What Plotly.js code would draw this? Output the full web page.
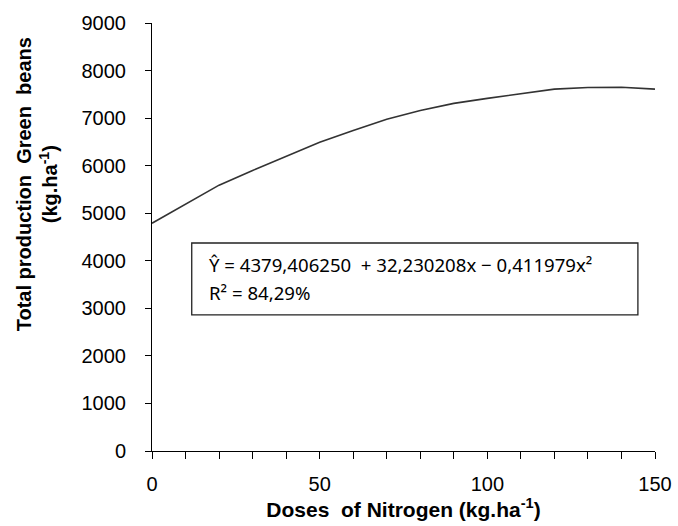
<!DOCTYPE html>
<html>
<head>
<meta charset="utf-8">
<script src="https://cdn.plot.ly/plotly-3.0.1.min.js"></script>
<style>html,body{margin:0;padding:0;background:#fff;}#chart{width:678px;height:526px;}</style>
</head>
<body>
<div id="chart"></div>
<script>
// Nitrogen doses (kg/ha) and total green bean production (kg/ha)
const doses = [0, 10, 20, 30, 40, 50, 60, 70, 80, 90, 100, 110, 120, 130, 140, 150];
const production = [4790, 5190, 5590, 5900, 6200, 6490, 6740, 6975, 7160, 7310, 7415, 7515, 7610, 7645, 7650, 7610];
const xTickVals = [0, 50, 100, 150];
const yTickVals = [0, 1000, 2000, 3000, 4000, 5000, 6000, 7000, 8000, 9000];
const equationText = "Ŷ = 4379,406250&nbsp;&nbsp;+ 32,230208x − 0,411979x²";
const r2Text = "R² = 84,29%";
const xTitle = "Doses&nbsp;&nbsp;of Nitrogen (kg.ha<sup>-1</sup>)";
const yTitle = "Total production&nbsp;&nbsp;Green&nbsp;&nbsp;beans<br>(kg.ha<sup>-1</sup>)";

const trace = {
  x: doses, y: production, type: 'scatter', mode: 'lines',
  line: {color: '#333333', width: 1.6, shape: 'linear'},
  hoverinfo: 'skip', showlegend: false
};

const layout = {
  width: 678, height: 526,
  margin: {l: 152, r: 23, t: 23, b: 75},
  paper_bgcolor: '#ffffff', plot_bgcolor: '#ffffff',
  font: {family: 'Liberation Sans, Arial, sans-serif', color: '#000'},
  xaxis: {
    range: [0, 150], tickvals: xTickVals, ticks: 'outside', ticklen: 7, tickwidth: 1, tickcolor: '#000',
    minor: {dtick: 10, ticks: 'outside', ticklen: 7, tickwidth: 1, tickcolor: '#000', showgrid: false},
    showline: true, linecolor: '#000', linewidth: 1, showgrid: false, zeroline: false,
    tickfont: {size: 20, family: 'Liberation Sans, Arial, sans-serif'},
    ticklabelstandoff: 8,
    title: {text: xTitle, font: {size: 21, family: 'Liberation Sans, Arial, sans-serif', weight: 'bold'}, standoff: 7}
  },
  yaxis: {
    range: [0, 9000], tickvals: yTickVals, ticks: 'outside', ticklen: 6, tickwidth: 1, tickcolor: '#000',
    showline: true, linecolor: '#000', linewidth: 1, showgrid: false, zeroline: false,
    tickfont: {size: 20, family: 'Liberation Sans, Arial, sans-serif'},
    ticklabelstandoff: 15
  },
  shapes: [
    {type: 'rect', xref: 'paper', yref: 'paper', x0: 0.079, x1: 0.966, y0: 0.318, y1: 0.486,
     line: {color: '#222', width: 1.3}, fillcolor: 'rgba(255,255,255,0)'}
  ],
  annotations: [
    {xref: 'paper', yref: 'paper', x: 0.110, y: 0.435, xanchor: 'left', yanchor: 'middle', showarrow: false,
     text: equationText, font: {size: 18.6, family: 'Noto Sans, sans-serif', color: '#000'}},
    {xref: 'paper', yref: 'paper', x: 0.110, y: 0.371, xanchor: 'left', yanchor: 'middle', showarrow: false,
     text: r2Text, font: {size: 18.6, family: 'Noto Sans, sans-serif', color: '#000'}},
    {xref: 'paper', yref: 'paper', x: -0.228, y: 0.624, xanchor: 'center', yanchor: 'middle', showarrow: false,
     textangle: -90, text: yTitle, font: {size: 20, family: 'Liberation Sans, Arial, sans-serif', weight: 'bold', color: '#000'}}
  ]
};

Plotly.newPlot('chart', [trace], layout, {staticPlot: true, displayModeBar: false});
</script>
</body>
</html>
